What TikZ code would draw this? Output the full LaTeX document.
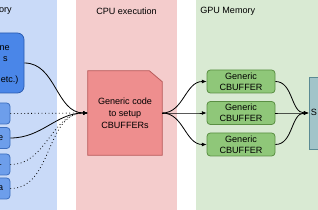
\documentclass[tikz,border=0pt]{standalone}
\usepackage{fontspec}
\setmainfont{Liberation Sans}
\usetikzlibrary{arrows.meta}

\definecolor{bluebg}{HTML}{C9DAF8}
\definecolor{redbg}{HTML}{F4CCCC}
\definecolor{greenbg}{HTML}{D9EAD3}
\definecolor{engfill}{HTML}{4A86E8}
\definecolor{engline}{HTML}{2A5BB0}
\definecolor{srcfill}{HTML}{6D9EEB}
\definecolor{srcline}{HTML}{3D6FC0}
\definecolor{cpufill}{HTML}{EE8E8E}
\definecolor{cpuline}{HTML}{B85C5C}
\definecolor{buffill}{HTML}{8FC779}
\definecolor{bufline}{HTML}{5A8F43}
\definecolor{shdfill}{HTML}{A2C4C9}
\definecolor{shdline}{HTML}{5B8A93}

\begin{document}
\begin{tikzpicture}[x=0.75pt, y=-0.75pt, font=\fontsize{6.8}{8.5}\selectfont,
    panel/.style={anchor=west, inner sep=0pt},
    srcbox/.style={draw=srcline, fill=srcfill, line width=0.6pt, rounded corners=2.5pt,
      minimum width=30pt, minimum height=15.75pt, inner sep=0pt},
    bufbox/.style={draw=bufline, fill=buffill, line width=0.6pt, rounded corners=2.5pt,
      minimum width=51pt, minimum height=17.25pt, inner sep=0pt, align=center},
    feed/.style={line width=0.6pt, -{Latex[length=3.5pt, width=3pt]}},
    soft/.style={feed, dotted}]
  \useasboundingbox (0,0) rectangle (318,210);
  \clip (0,0) rectangle (318,210);

  % columns
  \fill[bluebg] (-10,-10) rectangle (57,220);
  \fill[redbg] (76,-10) rectangle (177,220);
  \fill[greenbg] (196,-10) rectangle (330,220);
  \node[anchor=east, inner sep=0pt] (memtitle) at (12,11) {ory};
  \node (cputitle) at (126.5,11) {CPU execution};
  \node[panel] (gputitle) at (200,11) {GPU Memory};

  % left side
  \node[draw=engline, fill=engfill, line width=0.6pt, rounded corners=5pt,
    minimum width=48pt, minimum height=45pt, inner sep=0pt] (engine) at (-8,63) {};
  \node[anchor=base east, inner sep=0pt] (eng1) at (10,51) {ne};
  \node[anchor=base east, inner sep=0pt] (eng2) at (8,62) {s};
  \node[anchor=base west, inner sep=0pt] (eng3) at (0.5,83) {etc.)};
  \node[srcbox] (src1) at (-10,113.5) {};
  \node[srcbox] (src2) at (-10,138) {};
  \node[srcbox] (src3) at (-10,164.5) {};
  \node[srcbox] (src4) at (-10,188.5) {};
  \node[anchor=east, inner sep=0pt] (src2t) at (3.5,138) {e};
  \node[anchor=east, inner sep=0pt] (src3t) at (2.5,165) {.};
  \node[anchor=east, inner sep=0pt] (src4t) at (3.5,188.5) {a};

  % cpu code block with folded corner
  \node[minimum width=55.5pt, minimum height=63pt, inner sep=0pt] (cpu) at (125,113) {};
  \draw[cpuline, fill=cpufill, line width=0.6pt]
    (cpu.south west) -- (cpu.north west) -- ([xshift=-9.75pt]cpu.north east)
    -- ([yshift=-8.25pt]cpu.north east) -- (cpu.south east) -- cycle;
  \node[align=center, inner sep=0pt, font=\fontsize{6.8}{9}\selectfont] (cputext) at (cpu)
    {Generic code\\to setup\\CBUFFERs};

  % gpu buffers
  \node[bufbox] (buf1) at (241,81.5) {Generic\\CBUFFER};
  \node[bufbox] (buf2) at (241,113) {Generic\\CBUFFER};
  \node[bufbox] (buf3) at (241,144.5) {Generic\\CBUFFER};
  \node[draw=shdline, fill=shdfill, line width=0.6pt, minimum width=23.25pt,
    minimum height=54pt, inner sep=0pt] (shader) at (324.5,113) {};
  \node[anchor=west, inner sep=0pt] (shdtext) at (310.5,112) {S};

  % links
  \draw[feed] (engine.east) to[out=0, in=180] (cpu.west);
  \draw[soft] (src1.east) -- (cpu.west);
  \draw[feed] (src2.east) to[out=0, in=180] (cpu.west);
  \draw[soft] (src3.east) to[out=0, in=180] (cpu.west);
  \draw[soft] (src4.east) to[out=0, in=180] (cpu.west);
  \foreach \b in {buf1, buf2, buf3} {
    \draw[feed] (cpu.east) to[out=0, in=180] (\b.west);
    \draw[feed] (\b.east) to[out=0, in=180] (shader.west);
  }
\end{tikzpicture}
\end{document}
